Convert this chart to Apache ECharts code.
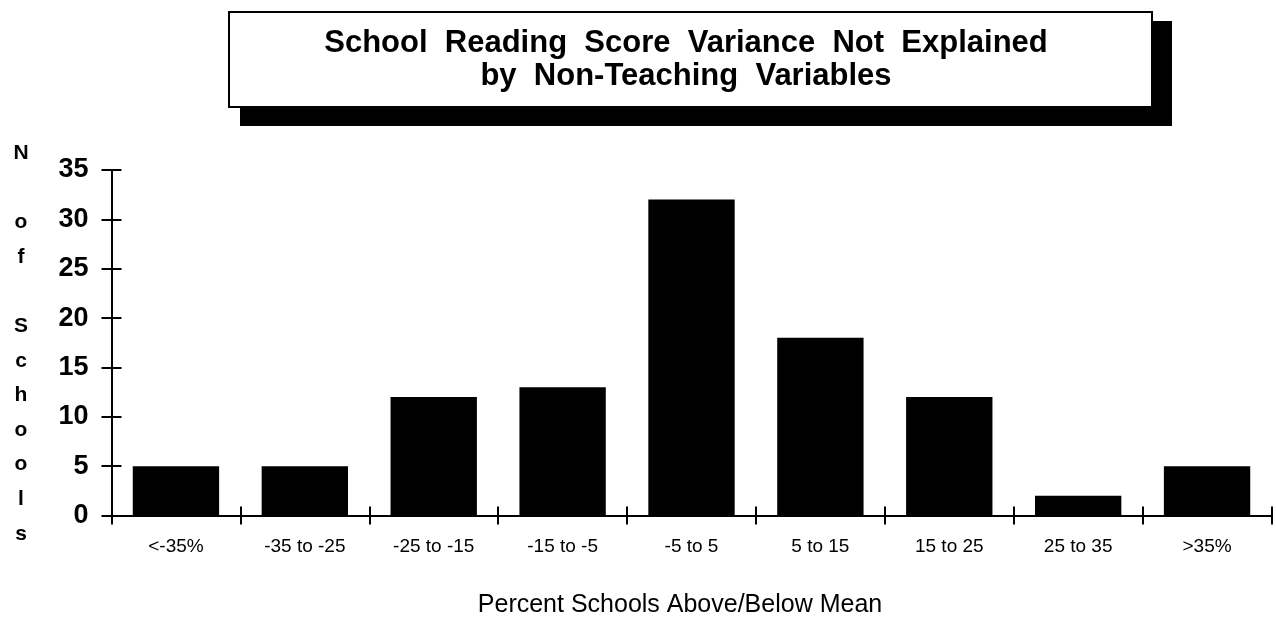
<!DOCTYPE html>
<html>
<head>
<meta charset="utf-8">
<title>School Reading Score Variance</title>
<script src="https://cdn.jsdelivr.net/npm/echarts@6/dist/echarts.min.js"></script>
<style>
  html, body { margin: 0; padding: 0; background: #fff; }
  #chart { width: 1276px; height: 619px; }
</style>
</head>
<body>
<div id="chart"></div>
<script>
// Percent bands of schools above/below the predicted mean
const categories = ['<-35%', '-35 to -25', '-25 to -15', '-15 to -5', '-5 to 5', '5 to 15', '15 to 25', '25 to 35', '>35%'];
// Number of schools in each band
const schoolCounts = [5, 5, 12, 13, 32, 18, 12, 2, 5];
// Value axis range and step
const yMin = 0;
const yMax = 35;
const yStep = 5;

const titleLines = ['School  Reading  Score  Variance  Not  Explained', 'by  Non-Teaching  Variables'];
const yAxisTitle = 'N\n\no\nf\n\nS\nc\nh\no\no\nl\ns';
const xAxisTitle = 'Percent Schools Above/Below Mean';

const FONT = '"Liberation Sans", Arial, Helvetica, sans-serif';
const INK = '#000';

const chart = echarts.init(document.getElementById('chart'), null, { renderer: 'canvas' });

const baseY = {
  type: 'value',
  position: 'left',
  min: yMin,
  max: yMax,
  interval: yStep,
  splitLine: { show: false },
  axisLine: { show: true, lineStyle: { color: INK, width: 2 } }
};

const baseX = {
  type: 'category',
  position: 'bottom',
  data: categories,
  boundaryGap: true,
  axisLine: { show: true, onZero: false, lineStyle: { color: INK, width: 2 } }
};

chart.setOption({
  backgroundColor: '#fff',
  animation: false,
  grid: { left: 111.5, right: 4.5, top: 170, bottom: 103.5, containLabel: false },
  xAxis: [
    Object.assign({}, baseX, {
      axisTick: { show: true, inside: false, length: 9, lineStyle: { color: INK, width: 2 } },
      axisLabel: { show: true, color: INK, fontFamily: FONT, fontSize: 19, margin: 22, interval: 0 }
    }),
    Object.assign({}, baseX, {
      axisTick: { show: true, inside: true, length: 9, lineStyle: { color: INK, width: 2 } },
      axisLabel: { show: false }
    })
  ],
  yAxis: [
    Object.assign({}, baseY, {
      axisTick: { show: true, inside: false, length: 10, lineStyle: { color: INK, width: 2 } },
      axisLabel: { show: true, color: INK, fontFamily: FONT, fontSize: 27, fontWeight: 'bold', margin: 23 }
    }),
    Object.assign({}, baseY, {
      axisTick: { show: true, inside: true, length: 10, lineStyle: { color: INK, width: 2 } },
      axisLabel: { show: false }
    })
  ],
  series: [{
    type: 'bar',
    xAxisIndex: 0,
    yAxisIndex: 0,
    data: schoolCounts,
    barCategoryGap: '33%',
    itemStyle: { color: INK },
    silent: true
  }],
  graphic: [
    // drop shadow behind the title panel
    { type: 'rect', left: 240, top: 21, shape: { width: 932, height: 105 }, style: { fill: INK }, z: 10 },
    // title panel
    { type: 'rect', left: 228, top: 11, shape: { width: 923, height: 95 }, style: { fill: '#fff', stroke: INK, lineWidth: 2 }, z: 11 },
    {
      type: 'text', x: 686, y: 43, z: 12,
      style: { text: titleLines[0], fill: INK, font: 'bold 31px ' + FONT, textAlign: 'center', textVerticalAlign: 'middle' }
    },
    {
      type: 'text', x: 686, y: 76, z: 12,
      style: { text: titleLines[1], fill: INK, font: 'bold 31px ' + FONT, textAlign: 'center', textVerticalAlign: 'middle' }
    },
    // stacked letters naming the value axis
    {
      type: 'text', x: 21, y: 136, z: 12,
      style: { text: yAxisTitle, fill: INK, font: 'bold 21px ' + FONT, textAlign: 'center', textVerticalAlign: 'top', lineHeight: 34.6 }
    },
    // category axis name
    {
      type: 'text', x: 680, y: 605, z: 12,
      style: { text: xAxisTitle, fill: INK, font: '25px ' + FONT, textAlign: 'center', textVerticalAlign: 'middle' }
    }
  ]
});
</script>
</body>
</html>
